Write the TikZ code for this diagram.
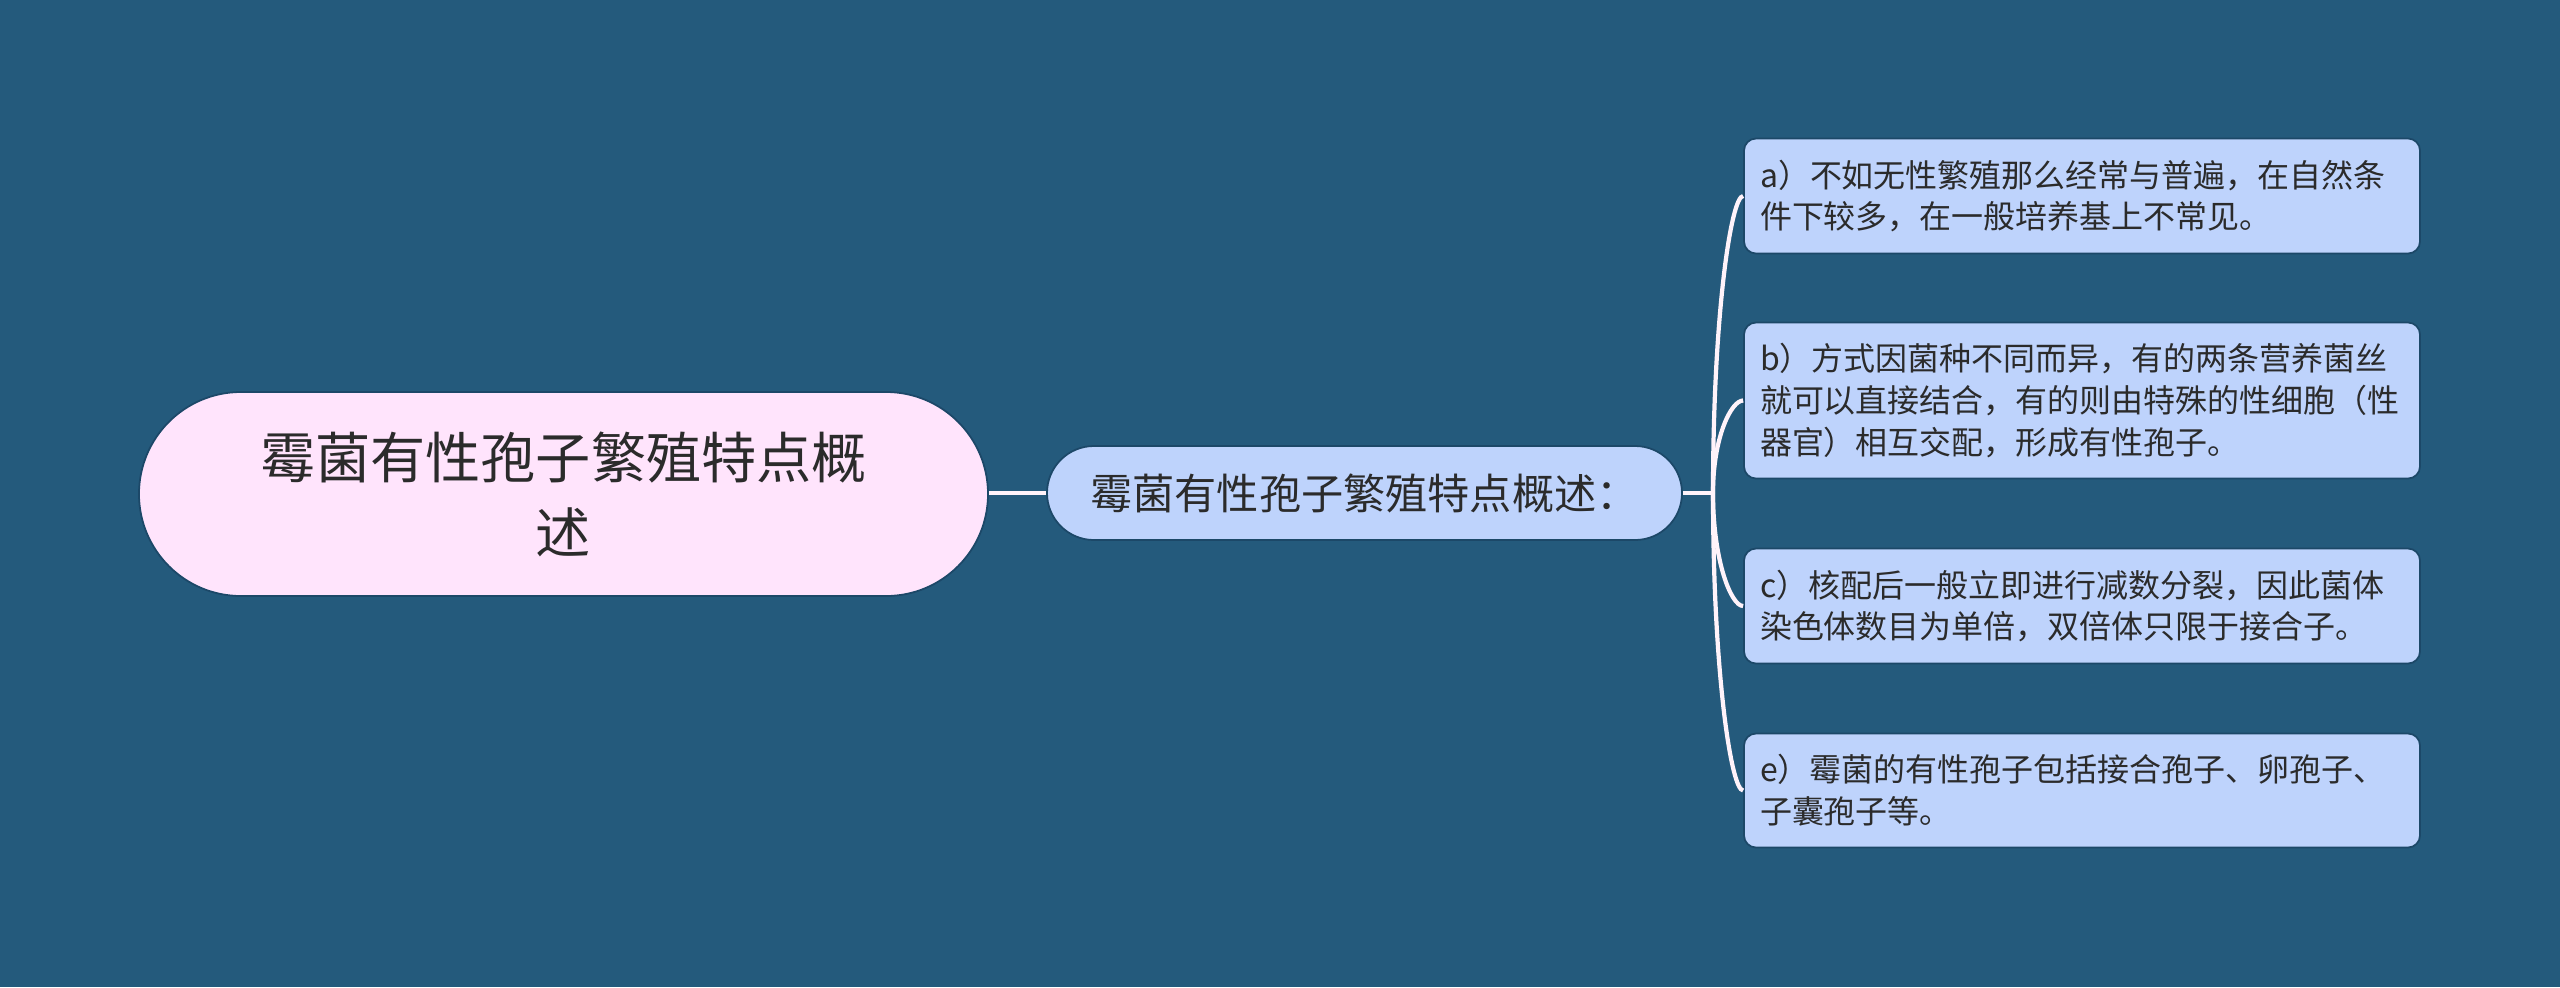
\documentclass[tikz,border=0pt]{standalone}
\usepackage{fontspec}
\setmainfont{Noto Sans CJK SC}
\usetikzlibrary{calc}
\definecolor{bgblue}{HTML}{245A7C}
\definecolor{edgeblue}{HTML}{1C4868}
\definecolor{leafblue}{HTML}{BED3FC}
\definecolor{rootpink}{HTML}{FFE4FC}
\definecolor{inkgray}{HTML}{2B2B2B}
\definecolor{linepink}{HTML}{FFF3FA}
\tikzset{
  rootbox/.style={rectangle, rounded corners=1.02cm, fill=rootpink, draw=edgeblue,
    line width=0.5pt, minimum width=8.49cm, minimum height=2.04cm, align=center,
    text=inkgray, font=\fontsize{15.7}{21.3}\selectfont},
  sumbox/.style={rectangle, rounded corners=0.47cm, fill=leafblue, draw=edgeblue,
    line width=0.5pt, minimum width=6.35cm, minimum height=0.94cm, align=center,
    text=inkgray, font=\fontsize{12}{15}\selectfont},
  leafbox/.style={rectangle, rounded corners=0.12cm, fill=leafblue, draw=edgeblue,
    line width=0.5pt, text width=6.44cm, inner xsep=0.16cm, inner ysep=0.2cm,
    align=left, text=inkgray, font=\fontsize{9.1}{11.9}\selectfont},
  branch/.style={draw=linepink, line width=1.2pt},
}

\begin{document}
\begin{tikzpicture}
      \fill[bgblue] (0,0) rectangle (25.6,-9.87);
      \useasboundingbox (0,0) rectangle (25.6,-9.87);
      \node[rootbox] (root) at (5.635,-4.94) {霉菌有性孢子繁殖特点概\\述};
      \node[sumbox] (sum) at (13.645,-4.93) {霉菌有性孢子繁殖特点概述：};
      \node[leafbox, minimum height=1.15cm] (pa) at (20.82,-1.96)
        {a）不如无性繁殖那么经常与普遍，在自然条\\件下较多，在一般培养基上不常见。};
      \node[leafbox, minimum height=1.56cm] (pb) at (20.82,-4.005)
        {b）方式因菌种不同而异，有的两条营养菌丝\\就可以直接结合，有的则由特殊的性细胞（性\\器官）相互交配，形成有性孢子。};
      \node[leafbox, minimum height=1.15cm] (pc) at (20.82,-6.06)
        {c）核配后一般立即进行减数分裂，因此菌体\\染色体数目为单倍，双倍体只限于接合子。};
      \node[leafbox, minimum height=1.14cm] (pe) at (20.82,-7.905)
        {e）霉菌的有性孢子包括接合孢子、卵孢子、\\子囊孢子等。};
      \coordinate (jn) at (17.13,-4.93);
      %\draw[branch] (root.east) -- (sum.west);
      \draw[branch] (root.east |- sum.west) -- (sum.west);
      \draw[branch] (sum.east) -- (jn);
      \foreach \p in {pa,pb,pc,pe}
        \draw[branch] (jn) .. controls ($(jn)!0.6!(jn |- \p.west)$) and ($(\p.west)+(-0.12,0)$) .. (\p.west);
\end{tikzpicture}
\end{document}
